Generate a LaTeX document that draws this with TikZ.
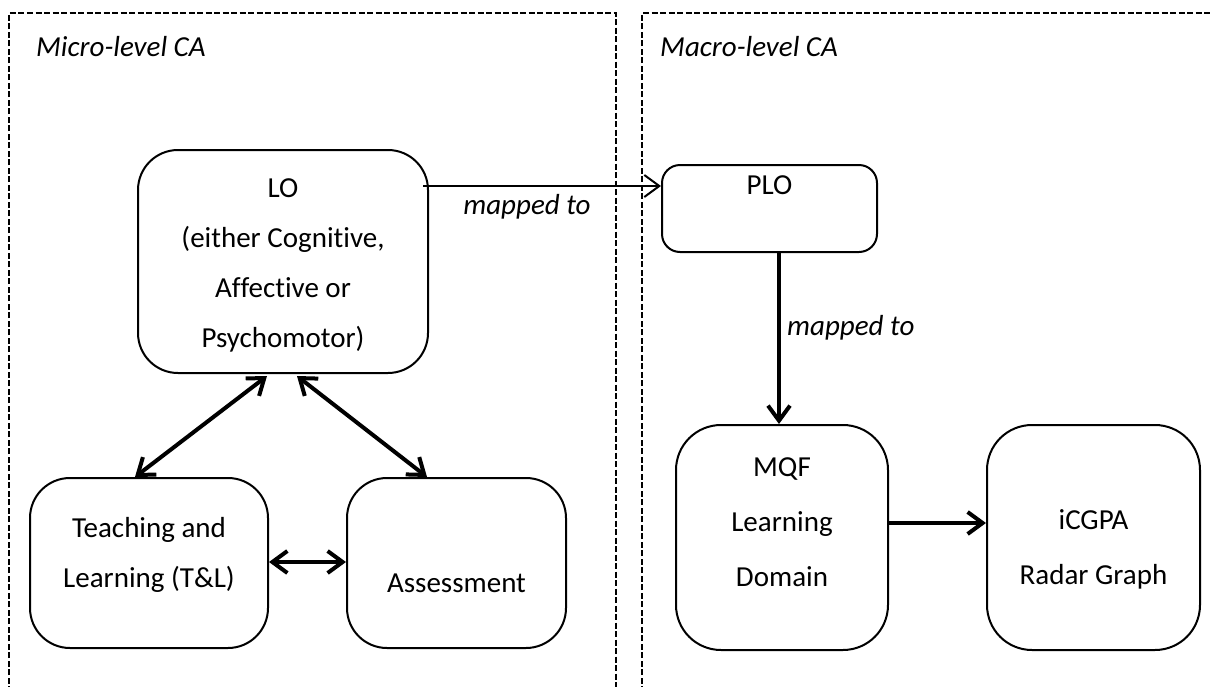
\documentclass[tikz,border=0pt]{standalone}
\usepackage{fontspec}
\setmainfont{Carlito}[RawFeature={-liga;-clig;-dlig;-calt}]
\usetikzlibrary{arrows.meta}
\begin{document}
\begin{tikzpicture}[x=1pt,y=-1pt,
  box/.style={draw, line width=2pt, rounded corners=#1, inner sep=0pt},
  box/.default=40pt,
  txt/.style={font=\fontsize{29}{50}\selectfont, align=center, inner sep=0pt},
  txtw/.style={font=\fontsize{29}{55}\selectfont, align=center, inner sep=0pt},
  lbl/.style={font=\fontsize{29}{35}\selectfont\itshape, inner sep=0pt},
  frame/.style={dash pattern=on 6pt off 2.5pt, line width=1.5pt},
  thinarrow/.style={line width=2pt, -{Straight Barb[length=15pt,width=22pt]}},
  thickarrow/.style={line width=4pt, -{Straight Barb[length=15pt,width=22pt]}},
  dblarrow/.style={line width=4pt, {Straight Barb[length=15pt,width=22pt]}-{Straight Barb[length=15pt,width=22pt]}},
]
\useasboundingbox (0,0) rectangle (1211,686);

% dashed frames
\draw[frame] (9,692) -- (9,13) -- (616,13) -- (616,692);
\draw[frame] (642,692) -- (642,13) -- (1216,13);
\node[lbl, anchor=base west] (micro) at (36,56) {Micro-level CA};
\node[lbl, anchor=base west] (macro) at (660,56) {Macro-level CA};

% boxes
\node[box, minimum width=290pt, minimum height=223pt] (LO) at (283,261.5) {};
\node[box=40pt, minimum width=238pt, minimum height=170pt] (TL) at (149,563) {};
\node[box=40pt, minimum width=219pt, minimum height=170pt] (AS) at (456.5,563) {};
\node[box=18pt, minimum width=215pt, minimum height=87pt] (PLO) at (769.5,208.5) {};
\node[box=45pt, minimum width=212pt, minimum height=225pt] (MQF) at (782,537.5) {};
\node[box=45pt, minimum width=213pt, minimum height=225pt] (ICG) at (1093.5,537.5) {};

% texts
\node[txt] (LOt) at (283,265) {LO\\(either Cognitive,\\Affective or\\Psychomotor)};
\node[txt] (TLt) at (149,555) {Teaching and\\Learning (T\&L)};
\node[txt] (ASt) at (456.5,583) {Assessment};
\node[txt] (PLOt) at (769.5,185) {PLO};
\node[txtw] (MQFt) at (782,522) {MQF\\Learning\\Domain};
\node[txtw] (ICGt) at (1093.5,549.5) {iCGPA\\Radar Graph};

% connectors
\coordinate (h1) at (423,186);
\draw[thinarrow] (h1) -- (h1 -| PLO.west);
\node[lbl] (m1) at (527,207) {mapped to};

\coordinate (vx) at (779,300);
\draw[thickarrow] (vx |- PLO.south) -- (vx |- MQF.north);
\node[lbl, anchor=west] (m2) at (787,328) {mapped to};

\coordinate (hy) at (930,523);
\draw[thickarrow] (hy -| MQF.east) -- (hy -| ICG.west);

\coordinate (hy2) at (300,562);
\draw[dblarrow] (hy2 -| TL.east) -- (hy2 -| AS.west);

\draw[dblarrow] ([xshift=-16pt,yshift=-2pt]LO.south) -- ([xshift=-14pt]TL.north);
\draw[dblarrow] ([xshift=14pt,yshift=-2pt]LO.south) -- ([xshift=-29.5pt]AS.north);
\end{tikzpicture}
\end{document}
